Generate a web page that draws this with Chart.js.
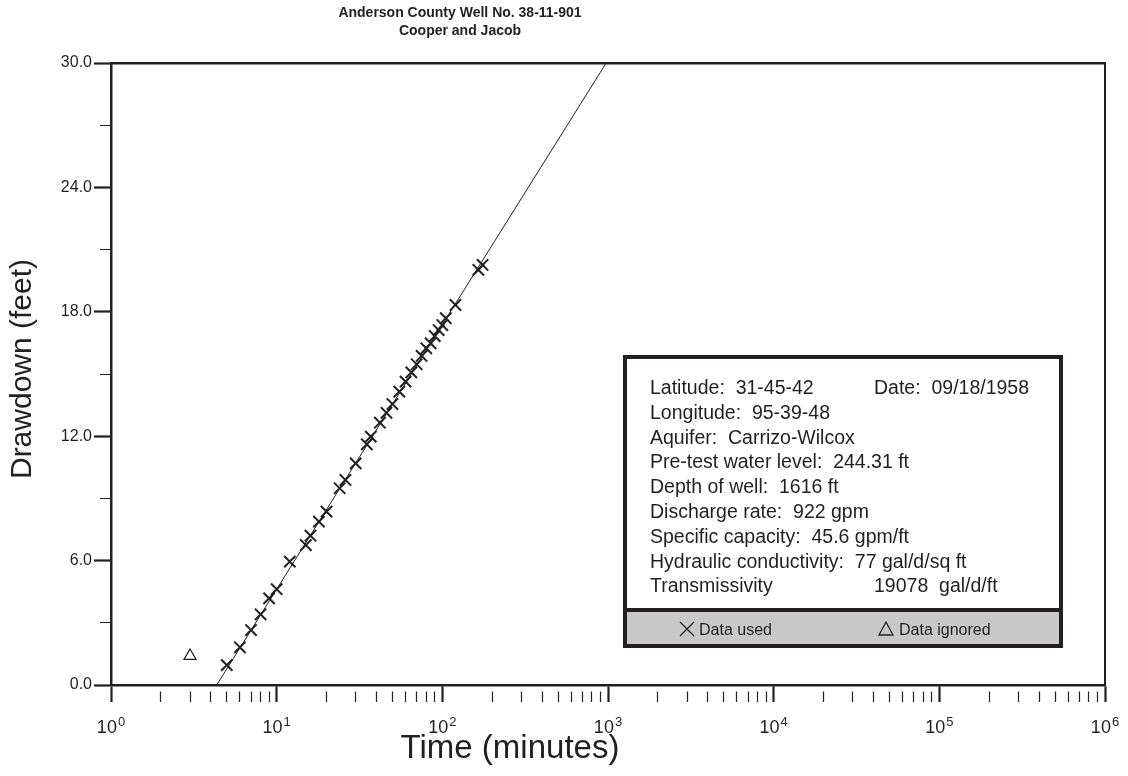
<!DOCTYPE html>
<html><head><meta charset="utf-8">
<script src="https://cdn.jsdelivr.net/npm/chart.js@4.4.0/dist/chart.umd.min.js"></script>
<style>html,body{margin:0;padding:0;background:#fff}#wrap{width:1128px;height:776px}</style>
</head><body><div id="wrap"><canvas id="c" width="1128" height="776"></canvas></div>
<script>
const titleLines = ['Anderson County Well No. 38-11-901', 'Cooper and Jacob'];
const xAxisTitle = 'Time (minutes)';
const yAxisTitle = 'Drawdown (feet)';

const timeUsed = [5, 6, 7, 8, 9, 10, 12, 15, 16, 18, 20, 24, 26, 30, 35, 37, 42, 46, 50, 55, 60, 65, 70, 75, 80, 85, 90, 95, 100, 105, 120, 165, 175];
const drawdownUsed = [0.96, 1.82, 2.65, 3.41, 4.18, 4.62, 5.95, 6.75, 7.2, 7.88, 8.36, 9.49, 9.89, 10.69, 11.61, 11.98, 12.65, 13.13, 13.55, 14.15, 14.63, 15.08, 15.47, 15.87, 16.24, 16.48, 16.83, 17.12, 17.36, 17.69, 18.33, 20.02, 20.26];
const timeIgnored = [3];
const drawdownIgnored = [1.4];
const fitTime = [4.345, 975];
const fitDrawdown = [0, 30];

const xDecades = [0, 1, 2, 3, 4, 5, 6];
const yTickValues = [0, 3, 6, 9, 12, 15, 18, 21, 24, 27, 30];
const yLabelValues = [0, 6, 12, 18, 24, 30];

const infoLeft = ['Latitude:  31-45-42', 'Longitude:  95-39-48', 'Aquifer:  Carrizo-Wilcox', 'Pre-test water level:  244.31 ft', 'Depth of well:  1616 ft', 'Discharge rate:  922 gpm', 'Specific capacity:  45.6 gpm/ft', 'Hydraulic conductivity:  77 gal/d/sq ft', 'Transmissivity'];
const infoRight = ['Date:  09/18/1958', '', '', '', '', '', '', '', '19078  gal/d/ft'];
const legendLabels = ['Data used', 'Data ignored'];

const INK = '#231f20';
const FONT = '"Liberation Sans", Arial, Helvetica, sans-serif';
Chart.defaults.font.family = FONT;
Chart.defaults.color = INK;

const xTickValues = [];
xDecades.forEach(d => {
  if (d === xDecades[xDecades.length - 1]) { xTickValues.push(Math.pow(10, d)); return; }
  for (let m = 1; m <= 9; m++) xTickValues.push(m * Math.pow(10, d));
});
const isDecade = v => Math.abs(Math.log10(v) - Math.round(Math.log10(v))) < 1e-9;

const usedPts = timeUsed.map((t, i) => ({x: t, y: drawdownUsed[i]}));
const ignPts = timeIgnored.map((t, i) => ({x: t, y: drawdownIgnored[i]}));
const fitPts = fitTime.map((t, i) => ({x: t, y: fitDrawdown[i]}));

const overlay = {
  id: 'overlay',
  afterDraw(chart) {
    const ctx = chart.ctx;
    const xs = chart.scales.x;
    ctx.save();
    ctx.fillStyle = INK;
    ctx.textAlign = 'center';
    ctx.textBaseline = 'middle';
    ctx.font = 'bold 14px ' + FONT;
    ctx.fillText(titleLines[0], 460, 13);
    ctx.fillText(titleLines[1], 460, 31);
    ctx.font = '33px ' + FONT;
    ctx.fillText(xAxisTitle, 510, 749);
    ctx.save();
    ctx.translate(23, 369);
    ctx.rotate(-Math.PI / 2);
    ctx.font = '30px ' + FONT;
    ctx.fillText(yAxisTitle, 0, 0);
    ctx.restore();
    ctx.textAlign = 'left';
    ctx.textBaseline = 'alphabetic';
    xDecades.forEach(d => {
      const px = xs.getPixelForValue(Math.pow(10, d));
      ctx.font = '18px ' + FONT;
      const w1 = ctx.measureText('10').width;
      ctx.font = '13px ' + FONT;
      const w2 = ctx.measureText(String(d)).width;
      const x0 = px - (w1 + w2 + 1) / 2;
      ctx.font = '18px ' + FONT;
      ctx.fillText('10', x0, 733);
      ctx.font = '13px ' + FONT;
      ctx.fillText(String(d), x0 + w1 + 1, 726);
    });
    const bx = 623, by = 355, bw = 440, bh = 293;
    ctx.fillStyle = '#ffffff';
    ctx.fillRect(bx, by, bw, bh);
    ctx.fillStyle = '#c8c8c8';
    ctx.fillRect(bx, 610, bw, bh - (610 - by));
    ctx.strokeStyle = INK;
    ctx.lineWidth = 4;
    ctx.strokeRect(bx + 2, by + 2, bw - 4, bh - 4);
    ctx.beginPath();
    ctx.moveTo(bx, 610); ctx.lineTo(bx + bw, 610);
    ctx.stroke();
    ctx.fillStyle = INK;
    ctx.font = '19.5px ' + FONT;
    infoLeft.forEach((s, i) => ctx.fillText(s, 650, 394 + i * 24.8));
    infoRight.forEach((s, i) => { if (s) ctx.fillText(s, 874, 394 + i * 24.8); });
    ctx.font = '16px ' + FONT;
    ctx.lineWidth = 1.3;
    ctx.beginPath();
    ctx.moveTo(680, 622); ctx.lineTo(694, 636);
    ctx.moveTo(694, 622); ctx.lineTo(680, 636);
    ctx.stroke();
    ctx.fillText(legendLabels[0], 699, 635);
    ctx.beginPath();
    ctx.moveTo(886, 622); ctx.lineTo(893, 635); ctx.lineTo(879, 635); ctx.closePath();
    ctx.stroke();
    ctx.fillText(legendLabels[1], 899, 635);
    ctx.restore();
  }
};

new Chart(document.getElementById('c'), {
  type: 'scatter',
  data: {
    datasets: [
      {label: 'Fit', data: fitPts, showLine: true, borderColor: INK, borderWidth: 1, pointRadius: 0, fill: false},
      {label: legendLabels[0], data: usedPts, pointStyle: 'crossRot', pointRadius: 8, borderColor: INK, borderWidth: 2, backgroundColor: INK},
      {label: legendLabels[1], data: ignPts, pointStyle: 'triangle', pointRadius: 7, borderColor: INK, borderWidth: 1.2, backgroundColor: 'rgba(0,0,0,0)'}
    ]
  },
  options: {
    responsive: false,
    animation: false,
    devicePixelRatio: 1,
    layout: {padding: {top: 63, right: 23, left: 0, bottom: 0}},
    plugins: {legend: {display: false}, tooltip: {enabled: false}, title: {display: false}},
    scales: {
      x: {
        type: 'logarithmic', position: 'bottom', min: 1, max: 1e6,
        afterBuildTicks: s => { s.ticks = xTickValues.map(v => ({value: v, major: isDecade(v)})); },
        afterFit: s => { s.height = 91; },
        ticks: {display: false, autoSkip: false},
        grid: {
          display: true, drawOnChartArea: false, drawTicks: true, tickLength: 17,
          tickColor: INK,
          tickWidth: c => (c.tick && isDecade(c.tick.value)) ? 2.2 : 1.2,
          tickBorderDash: c => (c.tick && isDecade(c.tick.value)) ? [] : [0, 5, 12, 100]
        },
        border: {display: true, color: INK, width: 2.5}
      },
      y: {
        type: 'linear', position: 'left', min: 0, max: 30,
        afterBuildTicks: s => { s.ticks = yTickValues.map(v => ({value: v})); },
        afterFit: s => { s.width = 111; },
        ticks: {
          autoSkip: false, padding: 2, color: INK,
          font: {size: 16, family: FONT},
          callback: v => yLabelValues.includes(v) ? v.toFixed(1) : ''
        },
        grid: {
          display: true, drawOnChartArea: false, drawTicks: true, tickLength: 17,
          tickColor: INK,
          tickWidth: c => (c.tick && yLabelValues.includes(c.tick.value)) ? 2.2 : 1.2,
          tickBorderDash: c => (c.tick && yLabelValues.includes(c.tick.value)) ? [] : [0, 6, 11, 100]
        },
        border: {display: true, color: INK, width: 2.5}
      },
      xTop: {
        type: 'linear', position: 'top', min: 0, max: 1,
        afterFit: s => { s.height = 0; },
        ticks: {display: false}, grid: {display: false, drawTicks: false},
        border: {display: true, color: INK, width: 2.5}
      },
      yRight: {
        type: 'linear', position: 'right', min: 0, max: 1,
        afterFit: s => { s.width = 0; },
        ticks: {display: false}, grid: {display: false, drawTicks: false},
        border: {display: true, color: INK, width: 2}
      }
    }
  },
  plugins: [overlay]
});
</script>
</body></html>
